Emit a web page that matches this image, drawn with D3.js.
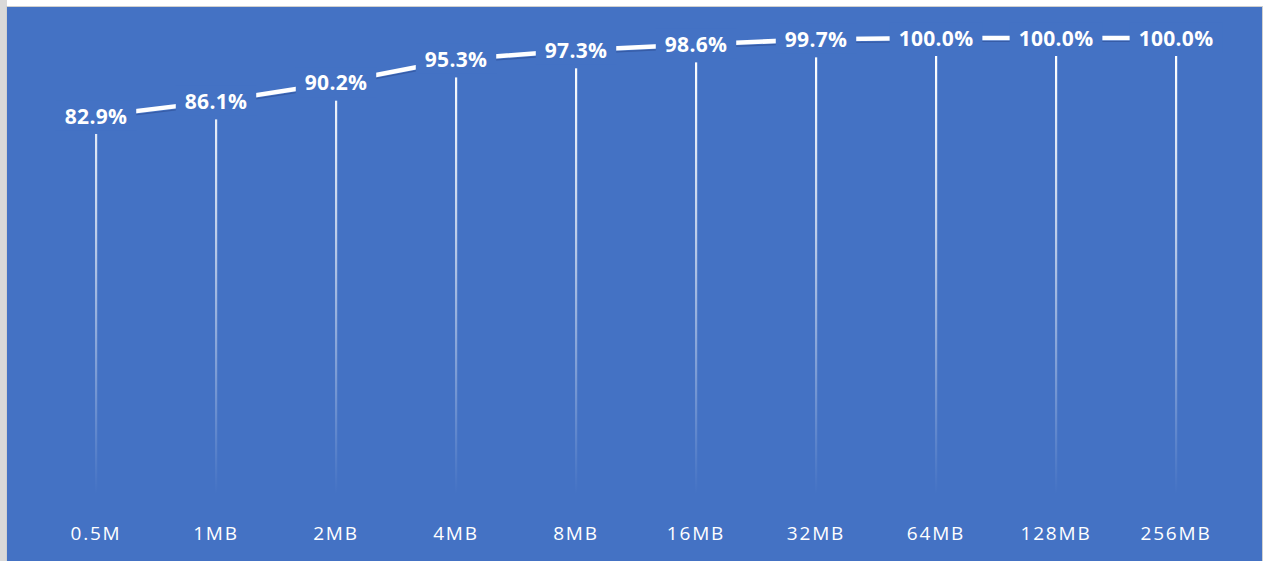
<!DOCTYPE html>
<html>
<head>
<meta charset="utf-8">
<script src="https://cdn.jsdelivr.net/npm/d3@7"></script>
<style>
  html, body { margin: 0; padding: 0; background: #fff; }
  svg { display: block; }
</style>
</head>
<body>
<svg id="chart"></svg>
<script>
const categories = ['0.5M', '1MB', '2MB', '4MB', '8MB', '16MB', '32MB', '64MB', '128MB', '256MB'];
const hitRates = [82.9, 86.1, 90.2, 95.3, 97.3, 98.6, 99.7, 100.0, 100.0, 100.0];
const yDomain = [0, 100];

const W = 1265, H = 561;
const BG = '#4472C4';
const svg = d3.select('#chart').attr('width', W).attr('height', H);

// frame
svg.append('rect').attr('width', W).attr('height', H).attr('fill', '#fff');
svg.append('rect').attr('width', 7).attr('height', H).attr('fill', '#d9d9d9');
svg.append('rect').attr('x', 6.5).attr('y', 6.5).attr('width', 1256).attr('height', H)
  .attr('fill', BG).attr('stroke', '#d0d0d0').attr('stroke-width', 1);

const x = d3.scaleBand().domain(categories).range([36, 1236]);
const y = d3.scaleLinear().domain(yDomain).range([494, 38]);
const cx = c => x(c) + x.bandwidth() / 2;

const data = categories.map((c, i) => ({cat: c, v: hitRates[i]}));

// fading drop lines
const defs = svg.append('defs');
const grad = defs.append('linearGradient').attr('id', 'dropFade')
  .attr('gradientUnits', 'userSpaceOnUse')
  .attr('x1', 0).attr('y1', y(100) + 20).attr('x2', 0).attr('y2', y(0));
grad.append('stop').attr('offset', '0%').attr('stop-color', '#fff').attr('stop-opacity', 1);
grad.append('stop').attr('offset', '40%').attr('stop-color', '#fff').attr('stop-opacity', 0.65);
grad.append('stop').attr('offset', '100%').attr('stop-color', '#fff').attr('stop-opacity', 0);

svg.append('g').selectAll('rect').data(data).enter().append('rect')
  .attr('x', d => cx(d.cat) - 1)
  .attr('y', d => y(d.v) + 18)
  .attr('width', 2.2)
  .attr('height', d => y(0) - y(d.v) - 18)
  .attr('fill', 'url(#dropFade)');

// line + faint shadow
const line = d3.line().x(d => cx(d.cat)).y(d => y(d.v));
svg.append('path').datum(data).attr('d', line)
  .attr('fill', 'none').attr('stroke', 'rgba(30,50,110,0.35)').attr('stroke-width', 1.2)
  .attr('transform', 'translate(1,3.5)');
svg.append('path').datum(data).attr('d', line)
  .attr('fill', 'none').attr('stroke', '#fff').attr('stroke-width', 4.5);

// data labels (bg box hides the line underneath)
const lbl = svg.append('g').selectAll('g').data(data).enter().append('g')
  .attr('transform', d => 'translate(' + cx(d.cat) + ',' + y(d.v) + ')');
lbl.append('text')
  .attr('text-anchor', 'middle').attr('dy', '0.36em')
  .attr('font-family', '"Open Sans", sans-serif').attr('font-weight', 700)
  .attr('font-size', 21).attr('letter-spacing', 0.3)
  .attr('fill', '#fff')
  .text(d => d.v.toFixed(1) + '%')
  .each(function(){
    const b = this.getBBox();
    d3.select(this.parentNode).insert('rect', 'text')
      .attr('x', b.x - 9).attr('y', b.y - 1)
      .attr('width', b.width + 18).attr('height', b.height + 2)
      .attr('fill', BG);
  });

// category axis labels
const xAxis = svg.append('g').attr('transform', 'translate(0,' + 533 + ')')
  .call(d3.axisBottom(x).tickSize(0).tickPadding(0));
xAxis.select('.domain').remove();
xAxis.selectAll('text')
  .attr('dy', '0.36em')
  .attr('fill', '#fff')
  .attr('font-family', '"Open Sans", sans-serif')
  .attr('font-size', 19)
  .attr('letter-spacing', 1.8);
</script>
</body>
</html>
